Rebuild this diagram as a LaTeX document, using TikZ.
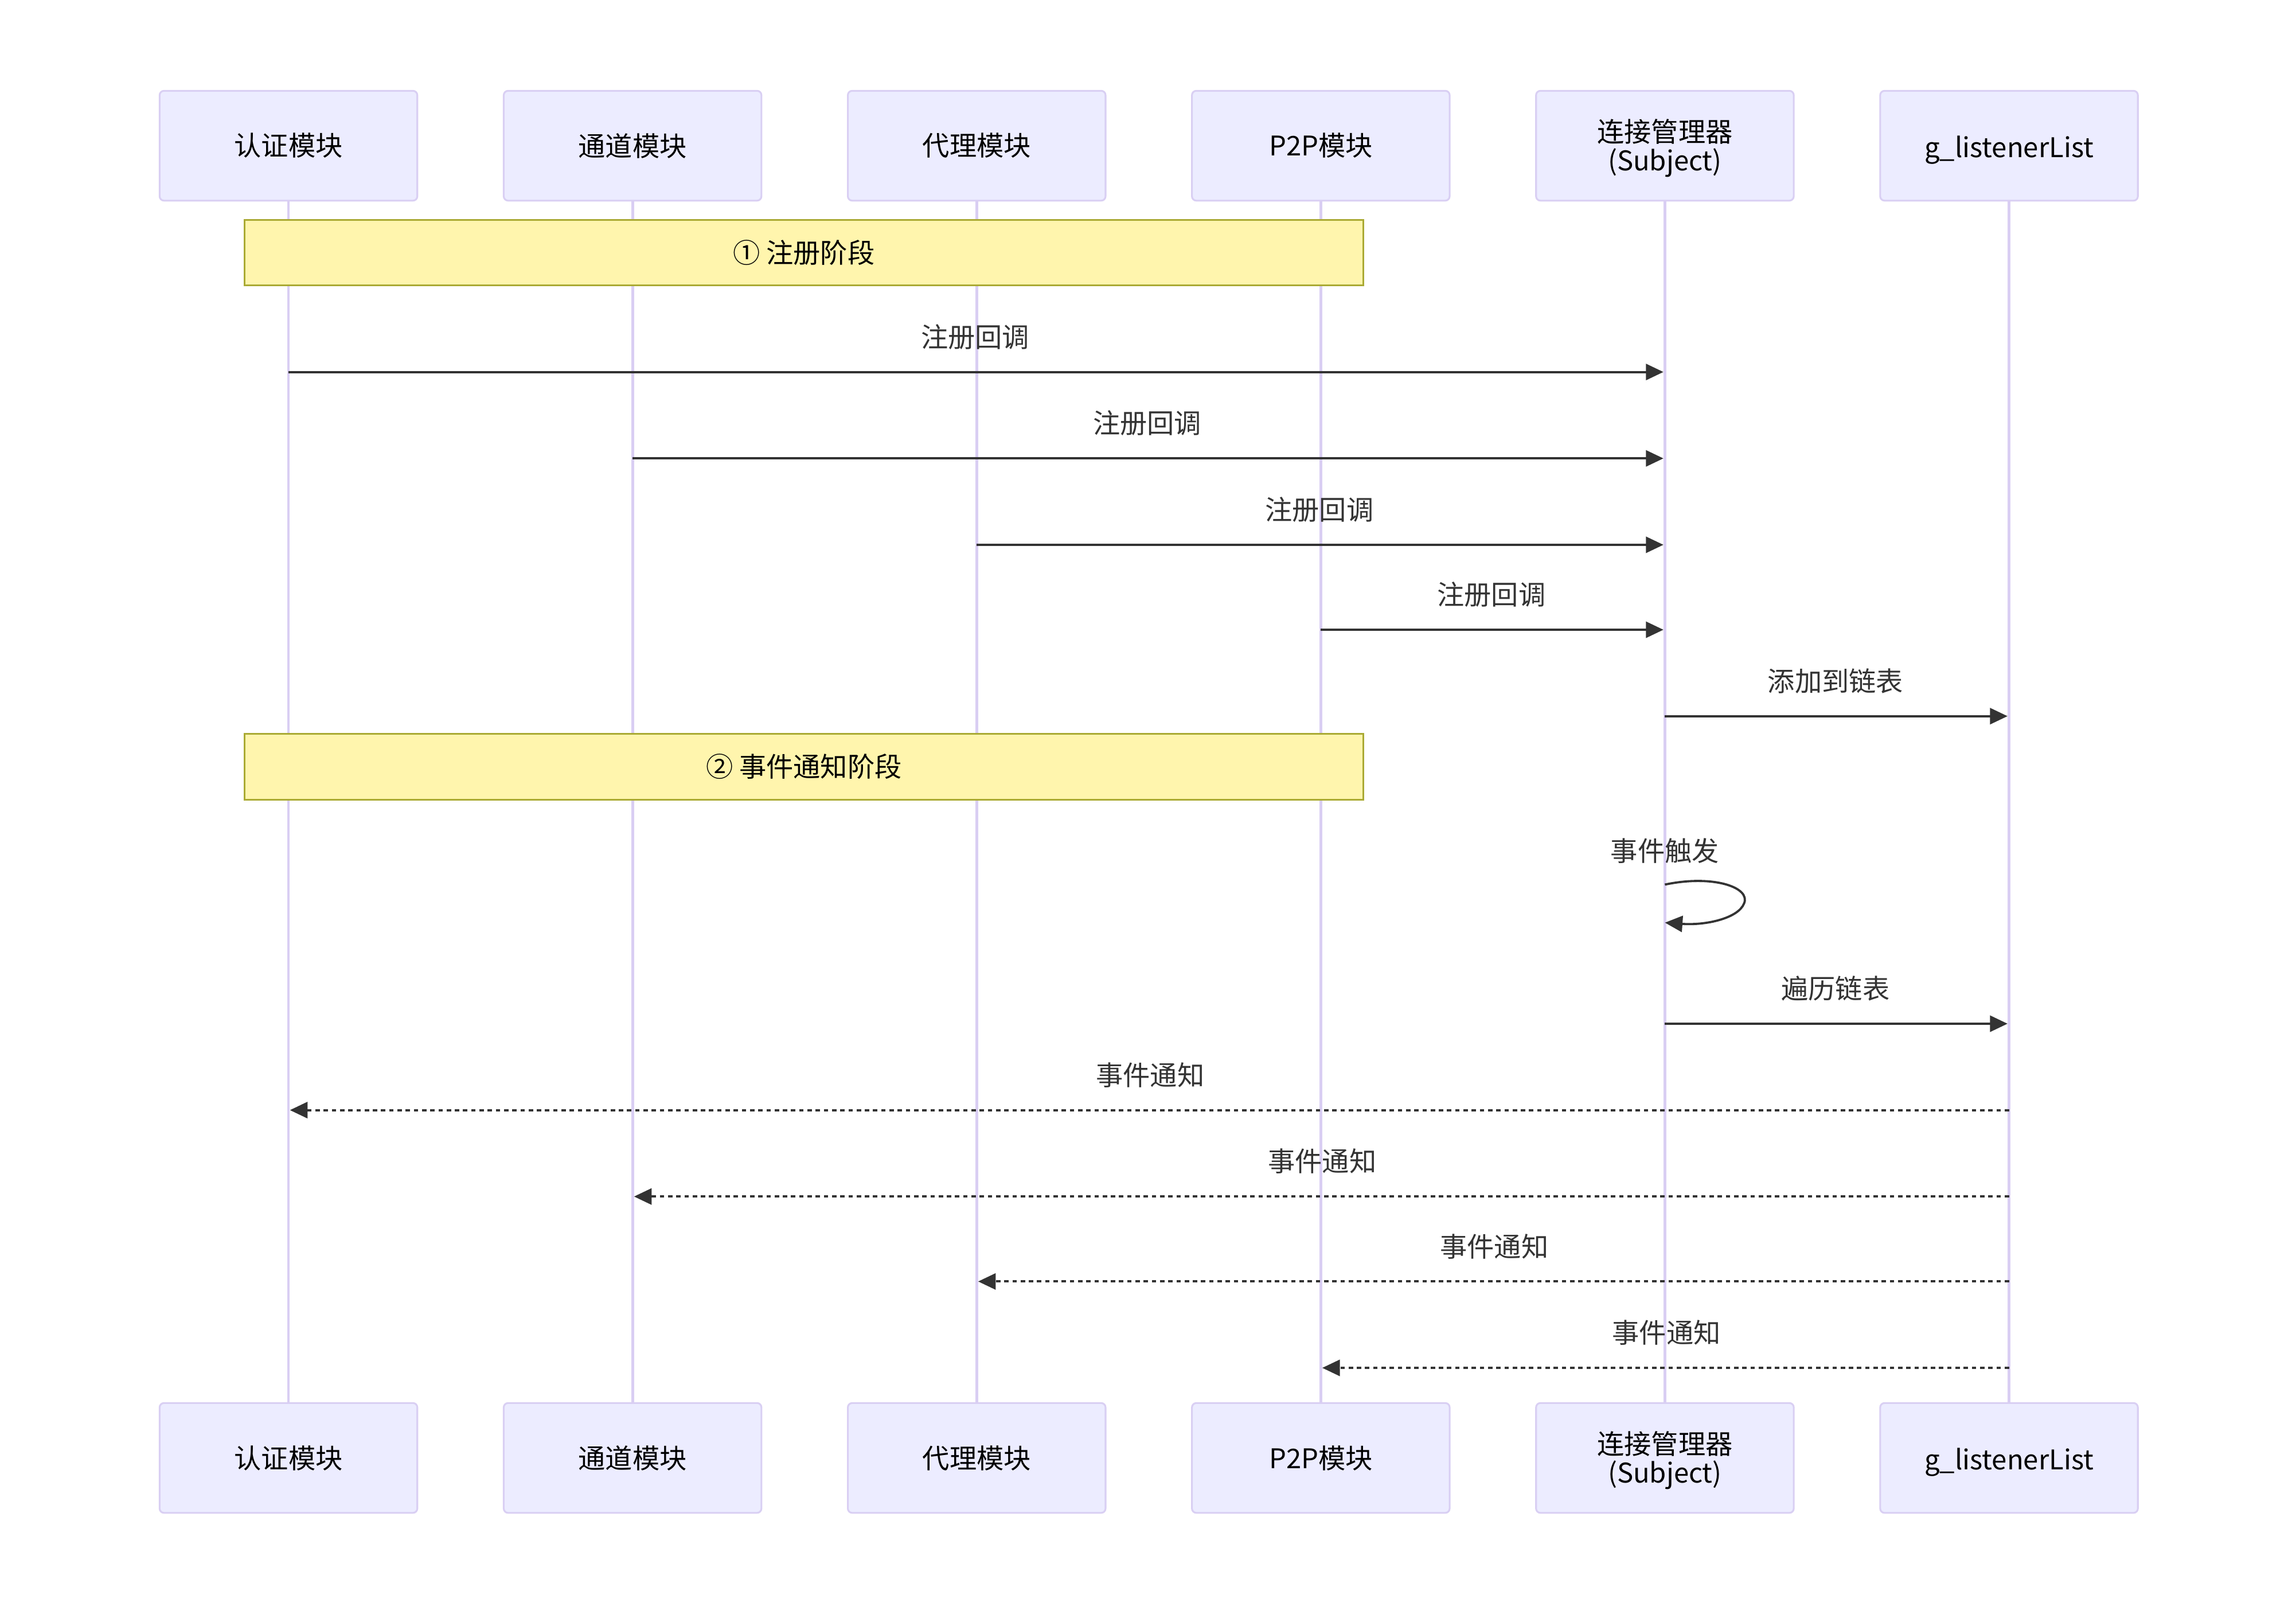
\documentclass[tikz,border=0pt]{standalone}
\usepackage{fontspec}
\setmainfont{Noto Sans CJK SC}
\usetikzlibrary{arrows.meta}
\definecolor{actfill}{HTML}{ECECFF}
\definecolor{actdraw}{HTML}{D9CFF3}
\definecolor{lifeline}{HTML}{D9CEF3}
\definecolor{notefill}{HTML}{FFF5AD}
\definecolor{notedraw}{HTML}{AAAA33}
\definecolor{msgcol}{HTML}{333333}
\newcommand{\lowerby}[2]{\raisebox{-#1}[\height][\depth]{#2}}
\tikzset{
  actor/.style={draw=actdraw, fill=actfill, line width=1.2pt, rounded corners=3pt,
    minimum width=176pt, minimum height=75pt, inner sep=0pt, align=center,
    font=\fontsize{18.5}{19.5}\selectfont, text=black},
  lifel/.style={draw=lifeline, line width=1.9pt},
  notebox/.style={draw=notedraw, fill=notefill, line width=1.2pt,
    minimum width=764pt, minimum height=45pt, inner sep=0pt,
    font=\fontsize{18.5}{20}\selectfont, text=black},
  msg/.style={draw=msgcol, line width=1.5pt, -{Triangle[length=12pt,width=11pt]}, shorten >=1pt},
  reply/.style={msg, dash pattern=on 3pt off 2.6pt},
  lbl/.style={font=\fontsize{18.5}{20}\selectfont, text=msgcol, inner sep=0pt}
}
\begin{document}
\begin{tikzpicture}[x=1pt,y=-1pt]
\useasboundingbox (0,0) rectangle (1568,1097);
% top actors
\node[actor] (a1) at (197,99.5) {认证模块};
\node[actor] (a2) at (432,99.5) {通道模块};
\node[actor] (a3) at (667,99.5) {代理模块};
\node[actor] (a4) at (902,99.5) {P2P模块};
\node[actor] (a5) at (1137,99.5) {\lowerby{1.5pt}{\parbox{170pt}{\centering 连接管理器\\(Subject)}}};
\node[actor] (a6) at (1372,99.5) {\lowerby{3pt}{g\_listenerList}};
% bottom actors
\node[actor] (b1) at (197,995.5) {认证模块};
\node[actor] (b2) at (432,995.5) {通道模块};
\node[actor] (b3) at (667,995.5) {代理模块};
\node[actor] (b4) at (902,995.5) {P2P模块};
\node[actor] (b5) at (1137,995.5) {\lowerby{1.5pt}{\parbox{170pt}{\centering 连接管理器\\(Subject)}}};
\node[actor] (b6) at (1372,995.5) {\lowerby{3pt}{g\_listenerList}};
% lifelines
\foreach \i in {1,...,6} { \draw[lifel] (a\i.south) -- (b\i.north); }
% notes
\node[notebox] (n1) at (549,172.5) {① 注册阶段};
\node[notebox] (n2) at (549,523.5) {② 事件通知阶段};
% registration messages
\draw[msg] (a1 |- 0,254) -- (a5 |- 0,254) node[lbl, midway, yshift=24pt, xshift=-1pt] (l1) {注册回调};
\draw[msg] (a2 |- 0,313) -- (a5 |- 0,313) node[lbl, midway, yshift=24pt, xshift=-1pt] (l2) {注册回调};
\draw[msg] (a3 |- 0,372) -- (a5 |- 0,372) node[lbl, midway, yshift=24pt, xshift=-1pt] (l3) {注册回调};
\draw[msg] (a4 |- 0,430) -- (a5 |- 0,430) node[lbl, midway, yshift=24pt, xshift=-1pt] (l4) {注册回调};
\draw[msg] (a5 |- 0,489) -- (a6 |- 0,489) node[lbl, midway, yshift=24pt, xshift=-1pt] (l5) {添加到链表};
% self loop
\node[lbl] (l6) at (1137,581) {事件触发};
\coordinate (s1) at (a5 |- 0,604);
\coordinate (s2) at (a5 |- 0,630);
\draw[msg, shorten >=0pt] (s1) .. controls (1170,597) and (1196,606) .. (1191,617)
  .. controls (1187,627) and (1165,632) .. (s2);
% traverse
\draw[msg] (a5 |- 0,699) -- (a6 |- 0,699) node[lbl, midway, yshift=24pt, xshift=-1pt] (l7) {遍历链表};
% notifications
\draw[reply] (a6 |- 0,758) -- (a1 |- 0,758) node[lbl, midway, yshift=24pt, xshift=1pt] (l8) {事件通知};
\draw[reply] (a6 |- 0,817) -- (a2 |- 0,817) node[lbl, midway, yshift=24pt, xshift=1pt] (l9) {事件通知};
\draw[reply] (a6 |- 0,875) -- (a3 |- 0,875) node[lbl, midway, yshift=24pt, xshift=1pt] (l10) {事件通知};
\draw[reply] (a6 |- 0,934) -- (a4 |- 0,934) node[lbl, midway, yshift=24pt, xshift=1pt] (l11) {事件通知};
\end{tikzpicture}
\end{document}
